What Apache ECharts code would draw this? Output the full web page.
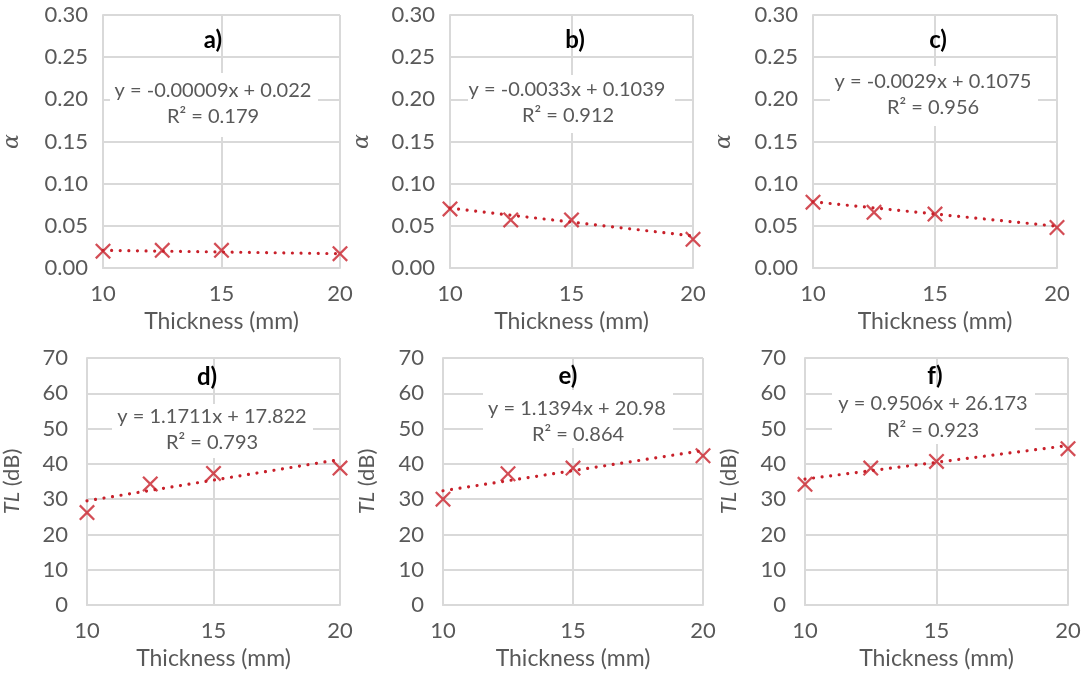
<!DOCTYPE html>
<html>
<head>
<meta charset="utf-8">
<script src="https://cdn.jsdelivr.net/npm/echarts@6/dist/echarts.min.js"></script>
<style>html,body{margin:0;padding:0;background:#fff;}#c{width:1084px;height:676px;}</style>
</head>
<body>
<div id="c"></div>
<script>
// ---- data ----
const thickness = [10, 12.5, 15, 20];
const alphaA = [0.020, 0.021, 0.021, 0.017];
const alphaB = [0.070, 0.057, 0.057, 0.034];
const alphaC = [0.078, 0.066, 0.064, 0.048];
const tlD = [26.2, 34.3, 37.3, 38.8];
const tlE = [30.0, 37.2, 38.8, 42.3];
const tlF = [34.2, 38.8, 40.7, 44.3];
// trend line values at x = 10 and x = 20
const trendStart = [0.021, 0.0709, 0.0785, 29.53, 32.37, 35.68];
const trendEnd = [0.017, 0.0379, 0.0495, 41.24, 43.77, 45.19];
const panelLabels = ['a)', 'b)', 'c)', 'd)', 'e)', 'f)'];
const equations = ['y = -0.00009x + 0.022', 'y = -0.0033x + 0.1039', 'y = -0.0029x + 0.1075',
                   'y = 1.1711x + 17.822', 'y = 1.1394x + 20.98', 'y = 0.9506x + 26.173'];
const r2Labels = ['R\u00B2 = 0.179', 'R\u00B2 = 0.912', 'R\u00B2 = 0.956',
                  'R\u00B2 = 0.793', 'R\u00B2 = 0.864', 'R\u00B2 = 0.923'];
const xTicks = {min: 10, max: 20, step: 5};
const alphaTicks = {min: 0, max: 0.3, step: 0.05};
const tlTicks = {min: 0, max: 70, step: 10};
const xName = 'Thickness (mm)';

const seriesData = [alphaA, alphaB, alphaC, tlD, tlE, tlF];

// ---- layout (pixels) ----
const grids = [
  {left: 95, top: 15, width: 245, height: 253},
  {left: 450, top: 15, width: 243, height: 253},
  {left: 813, top: 15, width: 244, height: 253},
  {left: 78, top: 358, width: 262, height: 247},
  {left: 443, top: 358, width: 260, height: 247},
  {left: 805, top: 358, width: 263, height: 247}
];
const textPos = [
  {tx: 213, ty: 40, ex: 213, ey: 91, rx: 213, ry: 117, box: [110, 73, 208, 64]},
  {tx: 575, ty: 40, ex: 567, ey: 90, rx: 568, ry: 116, box: [468, 75, 207, 58]},
  {tx: 938, ty: 40, ex: 933, ey: 82, rx: 933, ry: 108, box: [830, 66, 208, 60]},
  {tx: 207, ty: 377, ex: 212, ey: 417, rx: 212, ry: 443, box: [112, 404, 201, 54]},
  {tx: 568, ty: 376, ex: 577, ey: 409, rx: 578, ry: 435, box: [483, 390, 190, 58]},
  {tx: 935, ty: 376, ex: 933, ey: 404, rx: 933, ry: 431, box: [832, 386, 203, 58]}
];
const yNameGap = [80, 77, 78, 64, 65, 65];

const FONT = 'Lato, "Noto Sans", sans-serif';
const GRAY = '#595959';
const GRID = '#d9d9d9';
const RED = '#c8202a';
const xSymbol = 'path://M0,1L1,0L5,4L9,0L10,1L6,5L10,9L9,10L5,6L1,10L0,9L4,5Z';

const option = {
  animation: false,
  backgroundColor: '#ffffff',
  grid: [], xAxis: [], yAxis: [], series: [], graphic: []
};

for (let i = 0; i < 6; i++) {
  const top = i < 3;
  const yt = top ? alphaTicks : tlTicks;
  option.grid.push(Object.assign({containLabel: false}, grids[i]));
  option.xAxis.push({
    type: 'value', gridIndex: i, min: xTicks.min, max: xTicks.max, interval: xTicks.step,
    axisLine: {show: true, lineStyle: {color: GRID, width: 2}},
    axisTick: {show: false},
    axisLabel: {color: GRAY, fontSize: 22, fontFamily: FONT, margin: 15},
    splitLine: {show: true, lineStyle: {color: GRID, width: 2}},
    name: xName, nameLocation: 'middle', nameGap: 42,
    nameTextStyle: {color: GRAY, fontSize: 23, fontFamily: FONT}
  });
  option.yAxis.push({
    type: 'value', gridIndex: i, min: yt.min, max: yt.max, interval: yt.step,
    axisLine: {show: true, lineStyle: {color: GRID, width: 2}},
    axisTick: {show: false},
    axisLabel: {color: GRAY, fontSize: 22, fontFamily: FONT, margin: top ? 15 : 19,
      formatter: top ? (v => v.toFixed(2)) : (v => String(v))},
    splitLine: {show: true, lineStyle: {color: GRID, width: 2}},
    name: top ? 'α' : '{i|TL} (dB)',
    nameLocation: 'middle', nameGap: yNameGap[i],
    nameTextStyle: top
      ? {color: GRAY, fontSize: 22, fontFamily: '"DejaVu Serif", serif', fontStyle: 'italic'}
      : {color: GRAY, fontSize: 22, fontFamily: FONT,
         rich: {i: {color: GRAY, fontSize: 22, fontFamily: FONT, fontStyle: 'italic'}}}
  });
  option.series.push({
    type: 'line', xAxisIndex: i, yAxisIndex: i, showSymbol: false, silent: true, z: 3,
    data: [[xTicks.min, trendStart[i]], [xTicks.max, trendEnd[i]]],
    lineStyle: {color: RED, width: 3.2, type: [0.01, 8.6], cap: 'round'}
  });
  option.series.push({
    type: 'scatter', xAxisIndex: i, yAxisIndex: i, z: 4,
    symbol: xSymbol, symbolSize: 16,
    itemStyle: {color: RED},
    data: thickness.map((x, k) => [x, seriesData[i][k]])
  });
  const p = textPos[i];
  option.graphic.push(
    {type: 'rect', z: 50, silent: true, shape: {x: p.box[0], y: p.box[1], width: p.box[2], height: p.box[3]},
     style: {fill: '#ffffff'}},
    {type: 'text', z: 51, silent: true, style: {text: panelLabels[i], x: p.tx, y: p.ty, align: 'center', verticalAlign: 'middle',
      fill: '#000000', font: 'bold 24px ' + FONT}},
    {type: 'text', z: 51, silent: true, style: {text: equations[i], x: p.ex, y: p.ey, align: 'center', verticalAlign: 'middle',
      fill: GRAY, font: '20px ' + FONT}},
    {type: 'text', z: 51, silent: true, style: {text: r2Labels[i], x: p.rx, y: p.ry, align: 'center', verticalAlign: 'middle',
      fill: GRAY, font: '20px ' + FONT}}
  );
}

const chart = echarts.init(document.getElementById('c'), null, {renderer: 'canvas'});
chart.setOption(option);
</script>
</body>
</html>
